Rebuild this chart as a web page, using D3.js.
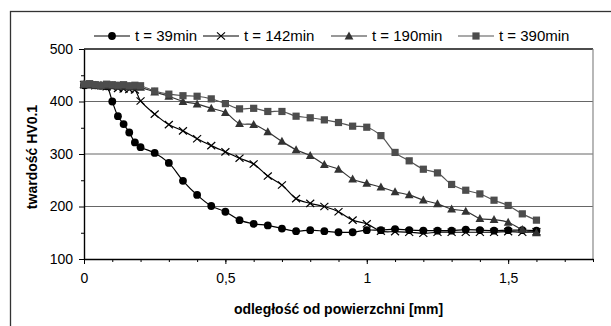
<!DOCTYPE html>
<html>
<head>
<meta charset="utf-8">
<script src="https://cdn.jsdelivr.net/npm/d3@7"></script>
<style>
  html, body { margin: 0; padding: 0; background: #fff; }
  svg { display: block; font-family: "Liberation Sans", Arial, sans-serif; }
</style>
</head>
<body>
<svg id="chart" width="611" height="326"></svg>
<script>
// depth below the surface [mm]
const depth = [0, 0.02, 0.04, 0.06, 0.08, 0.1, 0.12, 0.14, 0.16, 0.18, 0.2,
  0.25, 0.3, 0.35, 0.4, 0.45, 0.5, 0.55, 0.6, 0.65, 0.7, 0.75, 0.8, 0.85, 0.9, 0.95,
  1, 1.05, 1.1, 1.15, 1.2, 1.25, 1.3, 1.35, 1.4, 1.45, 1.5, 1.55, 1.6];

// hardness HV0.1 for each exposure time
const hv39 = [431, 432, 431, 430, 429, 400, 372, 357, 341, 322, 313,
  302, 283, 249, 222, 201, 190, 174, 167, 164, 158, 153, 155, 153, 151, 151,
  155, 155, 157, 155, 154, 154, 154, 156, 155, 154, 155, 155, 154];
const hv142 = [432, 431, 430, 430, 428, 427, 425, 424, 423, 422, 401,
  376, 356, 344, 329, 316, 304, 292, 281, 258, 241, 215, 206, 200, 190, 174,
  167, 153, 152, 151, 149, 151, 151, 151, 151, 151, 152, 151, 152];
const hv190 = [433, 432, 431, 431, 430, 430, 429, 429, 428, 428, 427,
  418, 410, 400, 395, 387, 379, 358, 356, 342, 324, 308, 297, 280, 271, 252,
  244, 237, 228, 222, 212, 205, 195, 191, 177, 175, 170, 156, 150];
const hv390 = [433, 434, 432, 431, 433, 432, 431, 432, 430, 431, 430,
  420, 414, 411, 410, 405, 396, 386, 387, 381, 381, 372, 369, 365, 360, 353,
  351, 335, 303, 287, 271, 264, 242, 231, 224, 212, 202, 186, 174];

const seriesNames = ["t = 39min", "t = 142min", "t = 190min", "t = 390min"];

const xTicks = [0, 0.5, 1, 1.5];
const xTickLabels = ["0", "0,5", "1", "1,5"];
const yTicks = [100, 200, 300, 400, 500];

const xTitle = "odległość od powierzchni [mm]";
const yTitle = "twardość HV0.1";

const svg = d3.select("#chart");

// outer chart frame
svg.append("rect")
  .attr("x", 10.5).attr("y", 11.5)
  .attr("width", 640).attr("height", 400)
  .attr("fill", "none").attr("stroke", "#333").attr("stroke-width", 1.3);

const x = d3.scaleLinear().domain([0, 1.8]).range([84, 593]);
const y = d3.scaleLinear().domain([100, 500]).range([259, 49]);

// horizontal gridlines
svg.append("g").selectAll("line")
  .data([200, 300, 400])
  .join("line")
  .attr("x1", x(0)).attr("x2", x(1.8))
  .attr("y1", d => y(d)).attr("y2", d => y(d))
  .attr("stroke", "#666").attr("stroke-width", 1);

// plot area border: top and right
svg.append("line")
  .attr("x1", x(0)).attr("x2", x(1.8)).attr("y1", y(500)).attr("y2", y(500))
  .attr("stroke", "#111").attr("stroke-width", 1.4);
svg.append("line")
  .attr("x1", x(1.8)).attr("x2", x(1.8)).attr("y1", y(500)).attr("y2", y(100))
  .attr("stroke", "#888").attr("stroke-width", 1.2);

// minor ticks
svg.append("g")
  .attr("transform", `translate(${x(0)},0)`)
  .call(d3.axisLeft(y).tickValues(d3.range(150, 500, 100)).tickSize(3).tickFormat(""))
  .call(g => g.select(".domain").remove());
svg.append("g")
  .attr("transform", `translate(0,${y(100)})`)
  .call(d3.axisBottom(x).tickValues(d3.range(1, 19).map(i => i / 10)).tickSize(3).tickFormat(""))
  .call(g => g.select(".domain").remove());

// main axes
const yAxis = svg.append("g")
  .attr("transform", `translate(${x(0)},0)`)
  .call(d3.axisLeft(y).tickValues(yTicks).tickSize(5).tickPadding(6).tickSizeOuter(0));
const xAxis = svg.append("g")
  .attr("transform", `translate(0,${y(100)})`)
  .call(d3.axisBottom(x).tickValues(xTicks).tickSize(5).tickPadding(9).tickSizeOuter(0)
    .tickFormat((d, i) => xTickLabels[i]));

[yAxis, xAxis].forEach(g => {
  g.selectAll("text").attr("font-size", 14).attr("fill", "#000")
    .attr("font-family", "'Liberation Sans', Arial, sans-serif");
  g.select(".domain").attr("stroke", "#000").attr("stroke-width", 1.4);
  g.selectAll(".tick line").attr("stroke", "#000");
});

// axis titles
svg.append("text")
  .attr("x", (x(0) + x(1.8)) / 2).attr("y", 314)
  .attr("text-anchor", "middle").attr("font-size", 14).attr("font-weight", "bold")
  .text(xTitle);
svg.append("text")
  .attr("transform", "translate(37,157) rotate(-90)")
  .attr("text-anchor", "middle").attr("font-size", 14).attr("font-weight", "bold")
  .text(yTitle);

// series styling
const styles = [
  { values: hv39,  line: "#000",    fill: "#000",    shape: "circle" },
  { values: hv142, line: "#000",    fill: "none",    shape: "cross" },
  { values: hv190, line: "#333",    fill: "#333",    shape: "triangle" },
  { values: hv390, line: "#555",    fill: "#4d4d4d", shape: "square" }
];

function drawMarker(g, shape, color) {
  if (shape === "circle") {
    g.append("circle").attr("r", 3.9).attr("fill", color);
  } else if (shape === "square") {
    g.append("rect").attr("x", -3.6).attr("y", -3.6).attr("width", 7.2).attr("height", 7.2)
      .attr("fill", color);
  } else if (shape === "triangle") {
    g.append("path").attr("d", "M0,-4.6L4.4,3.4L-4.4,3.4Z").attr("fill", color);
  } else if (shape === "cross") {
    g.append("path").attr("d", "M-4,-3.6L4,3.6M-4,3.6L4,-3.6")
      .attr("stroke", "#000").attr("stroke-width", 1.2).attr("fill", "none");
  }
}

const line = d3.line()
  .x(d => x(d[0]))
  .y(d => y(d[1]))
  .curve(d3.curveCatmullRom.alpha(0.5));

styles.forEach(s => {
  const pts = depth.map((d, i) => [d, s.values[i]]);
  const g = svg.append("g");
  g.append("path").datum(pts)
    .attr("d", line)
    .attr("fill", "none").attr("stroke", s.line).attr("stroke-width", 1.2);
  g.selectAll("g.m").data(pts).join("g")
    .attr("class", "m")
    .attr("transform", d => `translate(${x(d[0])},${y(d[1])})`)
    .each(function () { drawMarker(d3.select(this), s.shape, s.fill); });
});

// legend
const legendX = [112, 221, 349, 476];
const legendY = 36;
styles.forEach((s, i) => {
  const g = svg.append("g").attr("transform", `translate(${legendX[i]},${legendY})`);
  g.append("line").attr("x1", -18).attr("x2", 18)
    .attr("stroke", s.line).attr("stroke-width", 1.2);
  drawMarker(g, s.shape, s.fill);
  g.append("text").attr("x", 23).attr("dy", "0.35em")
    .attr("font-size", 15).text(seriesNames[i]);
});
</script>
</body>
</html>
